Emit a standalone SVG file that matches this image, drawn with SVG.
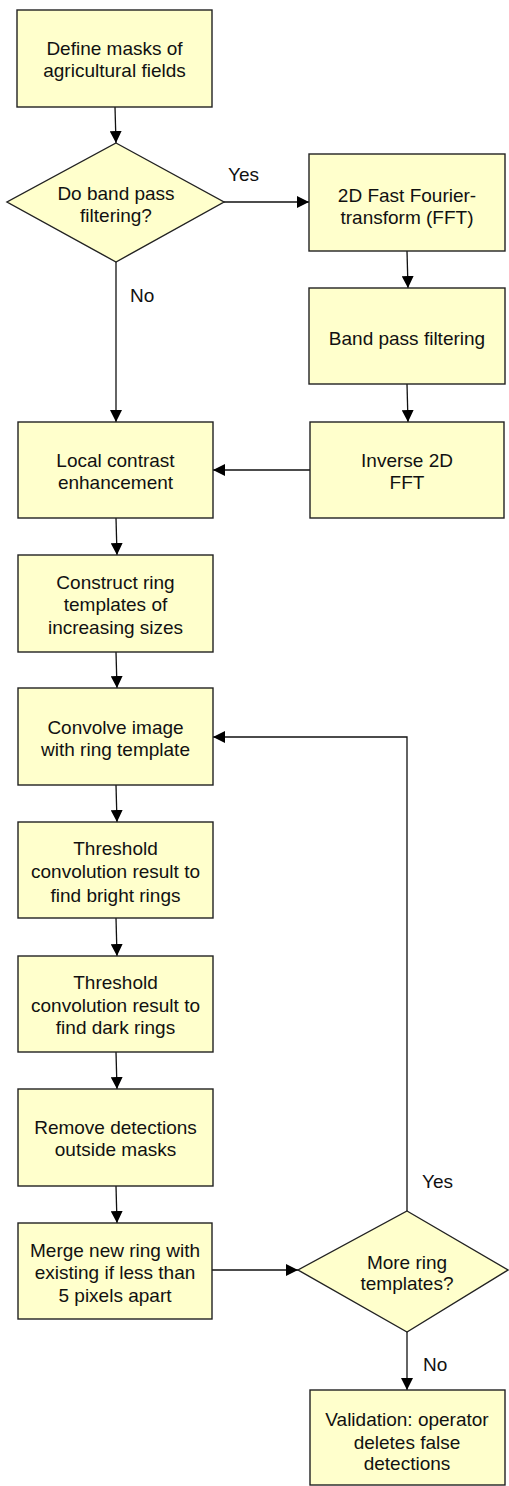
<svg xmlns="http://www.w3.org/2000/svg" width="509" height="1486" viewBox="0 0 509 1486">
<defs>
<style>
.box{fill:#FFFFCC;stroke:#222;stroke-width:1.4}
.t{font-family:"Liberation Sans",Arial,sans-serif;font-size:19px;fill:#111;text-anchor:middle}
.l{font-family:"Liberation Sans",Arial,sans-serif;font-size:19px;fill:#111}
.c{fill:none;stroke:#111;stroke-width:1.3}
</style>
<marker id="ah" markerWidth="12" markerHeight="12" refX="12" refY="6" orient="auto" markerUnits="userSpaceOnUse">
<path d="M0,0 L12,6 L0,12 Z" fill="#000"/>
</marker>
</defs>
<rect width="509" height="1486" fill="#fff"/>
<g id="connectors">
<path class="c" d="M115,107 L116,143" marker-end="url(#ah)"/>
<path class="c" d="M224,202 L309,202" marker-end="url(#ah)"/>
<path class="c" d="M116,262 L116,422" marker-end="url(#ah)"/>
<path class="c" d="M407,251 L408,288" marker-end="url(#ah)"/>
<path class="c" d="M407,384 L408,422" marker-end="url(#ah)"/>
<path class="c" d="M310,470 L213,470" marker-end="url(#ah)"/>
<path class="c" d="M116,518 L117,555" marker-end="url(#ah)"/>
<path class="c" d="M116,652 L117,688" marker-end="url(#ah)"/>
<path class="c" d="M407,1211 L407,737 L213,737" marker-end="url(#ah)"/>
<path class="c" d="M116,785 L117,822" marker-end="url(#ah)"/>
<path class="c" d="M116,918 L117,956" marker-end="url(#ah)"/>
<path class="c" d="M116,1052 L117,1089" marker-end="url(#ah)"/>
<path class="c" d="M116,1186 L117,1223" marker-end="url(#ah)"/>
<path class="c" d="M212,1270 L298,1270" marker-end="url(#ah)"/>
<path class="c" d="M407,1332 L407,1390" marker-end="url(#ah)"/>
<text class="l" x="228" y="181">Yes</text>
<text class="l" x="130" y="302">No</text>
<text class="l" x="422" y="1188">Yes</text>
<text class="l" x="423" y="1371">No</text>
</g>
<g id="define">
<rect class="box" x="17" y="10" width="195" height="97"/>
<text class="t" x="114.5" y="55">Define masks of</text>
<text class="t" x="114.5" y="77">agricultural fields</text>
</g>
<g id="bandpass-decision">
<polygon class="box" points="116,143 224,202 116,262 7,202"/>
<text class="t" x="116" y="200">Do band pass</text>
<text class="t" x="116" y="222">filtering?</text>
</g>
<g id="fft">
<rect class="box" x="309" y="154" width="196" height="97"/>
<text class="t" x="407" y="202">2D Fast Fourier-</text>
<text class="t" x="407" y="224">transform (FFT)</text>
</g>
<g id="bandpass">
<rect class="box" x="309" y="288" width="196" height="96"/>
<text class="t" x="407" y="345">Band pass filtering</text>
</g>
<g id="ifft">
<rect class="box" x="310" y="422" width="194" height="96"/>
<text class="t" x="407" y="467">Inverse 2D</text>
<text class="t" x="407" y="489">FFT</text>
</g>
<g id="contrast">
<rect class="box" x="18" y="422" width="195" height="96"/>
<text class="t" x="115.5" y="467">Local contrast</text>
<text class="t" x="115.5" y="489">enhancement</text>
</g>
<g id="construct">
<rect class="box" x="18" y="555" width="195" height="97"/>
<text class="t" x="115.5" y="589">Construct ring</text>
<text class="t" x="115.5" y="611">templates of</text>
<text class="t" x="115.5" y="634">increasing sizes</text>
</g>
<g id="convolve">
<rect class="box" x="18" y="688" width="195" height="97"/>
<text class="t" x="115.5" y="734">Convolve image</text>
<text class="t" x="115.5" y="756">with ring template</text>
</g>
<g id="thresh-bright">
<rect class="box" x="18" y="822" width="195" height="96"/>
<text class="t" x="115.5" y="855">Threshold</text>
<text class="t" x="115.5" y="878">convolution result to</text>
<text class="t" x="115.5" y="902">find bright rings</text>
</g>
<g id="thresh-dark">
<rect class="box" x="18" y="956" width="195" height="96"/>
<text class="t" x="115.5" y="989">Threshold</text>
<text class="t" x="115.5" y="1012">convolution result to</text>
<text class="t" x="115.5" y="1034">find dark rings</text>
</g>
<g id="remove">
<rect class="box" x="18" y="1089" width="195" height="97"/>
<text class="t" x="115.5" y="1134">Remove detections</text>
<text class="t" x="115.5" y="1156">outside masks</text>
</g>
<g id="merge">
<rect class="box" x="18" y="1223" width="194" height="96"/>
<text class="t" x="115" y="1257">Merge new ring with</text>
<text class="t" x="115" y="1279">existing if less than</text>
<text class="t" x="115" y="1302">5 pixels apart</text>
</g>
<g id="more-decision">
<polygon class="box" points="407,1211 508,1270 407,1332 298,1270"/>
<text class="t" x="407" y="1269">More ring</text>
<text class="t" x="407" y="1290">templates?</text>
</g>
<g id="validation">
<rect class="box" x="310" y="1390" width="195" height="95"/>
<text class="t" x="407" y="1426">Validation: operator</text>
<text class="t" x="407" y="1449">deletes false</text>
<text class="t" x="407" y="1470">detections</text>
</g>
</svg>
